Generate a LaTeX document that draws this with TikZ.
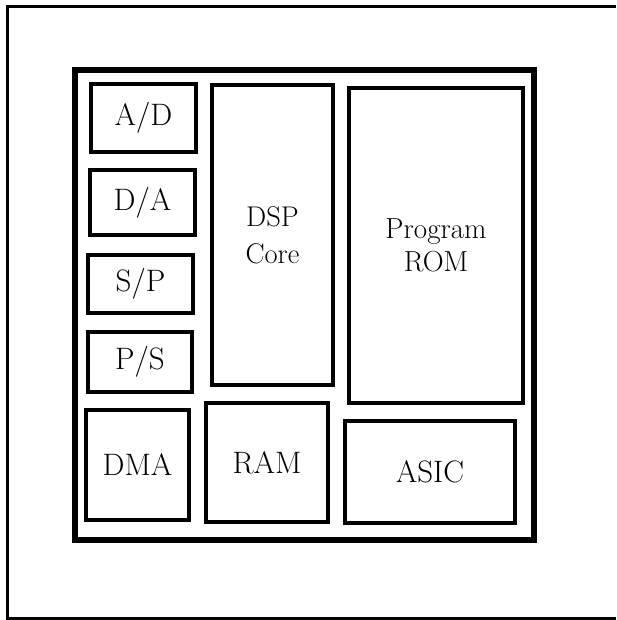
\documentclass[tikz,border=0pt]{standalone}
\usepackage{fontspec}
\setmainfont{Latin Modern Roman}
\begin{document}
\begin{tikzpicture}[x=1pt,y=-1pt,
  blk/.style={draw, line width=3.2pt, inner sep=0pt, align=center},
  big/.style={font=\fontsize{31}{36}\selectfont},
  chip/.style={draw, line width=6pt},
  frame/.style={draw, line width=3pt}]
\useasboundingbox (0,0) rectangle (616,620);
\draw[frame] (616,7) -- (7,7) -- (7,618) -- (616,618);
\draw[chip] (75,70) rectangle (534,540);
\node[blk,big,minimum width=105pt,minimum height=68pt] (ad) at (143.5,118) {A/D};
\node[blk,big,minimum width=105pt,minimum height=65pt] (da) at (142.5,202.5) {D/A};
\node[blk,big,minimum width=105pt,minimum height=58pt] (sp) at (140.5,284) {S/P};
\node[blk,big,minimum width=104pt,minimum height=60pt] (ps) at (140,362) {P/S};
\node[blk,big,minimum width=103pt,minimum height=110pt] (dma) at (137.5,465) {DMA};
\node[blk,font=\fontsize{28.5}{37}\selectfont,minimum width=121pt,minimum height=300pt] (dsp) at (272.5,235) {DSP\\Core};
\node[blk,big,minimum width=122pt,minimum height=119pt] (ram) at (267,462.5) {RAM};
\node[blk,font=\fontsize{29}{33}\selectfont,minimum width=174pt,minimum height=315pt] (rom) at (436,245.5) {Program\\ROM};
\node[blk,big,minimum width=170pt,minimum height=102pt] (asic) at (430,472) {ASIC};
\end{tikzpicture}
\end{document}
